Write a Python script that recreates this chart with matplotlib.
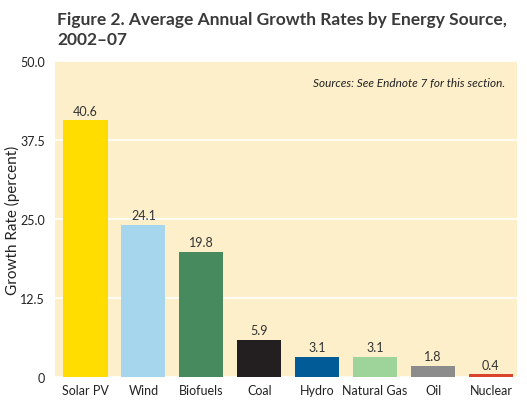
import matplotlib.pyplot as plt

plt.rcParams['font.family'] = ['Lato', 'DejaVu Sans']

categories = ['Solar PV', 'Wind', 'Biofuels', 'Coal', 'Hydro', 'Natural Gas', 'Oil', 'Nuclear']
growth = [40.6, 24.1, 19.8, 5.9, 3.1, 3.1, 1.8, 0.4]
labels = ['40.6', '24.1', '19.8', '5.9', '3.1', '3.1', '1.8', '0.4']
colors = ['#FFDD00', '#A6D5EE', '#478A5E', '#231F20', '#005B96', '#9ED49A', '#8C8C8C', '#D9442B']
yticks = [0, 12.5, 25.0, 37.5, 50.0]
ytick_labels = ['0', '12.5', '25.0', '37.5', '50.0']

fig = plt.figure(figsize=(5.27, 4.02), dpi=100)
ax = fig.add_axes([0.104, 0.06, 0.877, 0.786])
ax.set_facecolor('#FCEFC9')

x = range(len(categories))
ax.bar(x, growth, width=0.76, color=colors, zorder=3)
for i, v in enumerate(growth):
    ax.text(i, v + 0.6, labels[i], ha='center', va='bottom', fontsize=9, color='#333333', zorder=4)

ax.set_xlim(-0.53, 7.45)
ax.set_ylim(0, 50)
ax.set_yticks(yticks)
ax.set_yticklabels(ytick_labels)
ax.set_xticks(list(x))
ax.set_xticklabels(categories)
ax.tick_params(length=0, labelsize=9, colors='#222222')
ax.tick_params(axis='y', pad=7)
ax.tick_params(axis='x', pad=5)
ax.grid(axis='y', color='white', lw=1.2, zorder=1)
for s in ax.spines.values():
    s.set_visible(False)

ax.set_ylabel('Growth Rate (percent)', fontsize=11, color='#222222')
ax.yaxis.set_label_coords(-0.075, 0.5)
ax.text(0.975, 0.95, 'Sources: See Endnote 7 for this section.', transform=ax.transAxes,
        ha='right', va='top', fontsize=8.5, style='italic', color='#222222')

fig.text(0.108, 0.97, 'Figure 2. Average Annual Growth Rates by Energy Source,\n2002\u201307',
         ha='left', va='top', fontsize=12.5, fontweight='bold', color='#3a3a3a', linespacing=1.3)

fig.savefig('out.png', dpi=100)
